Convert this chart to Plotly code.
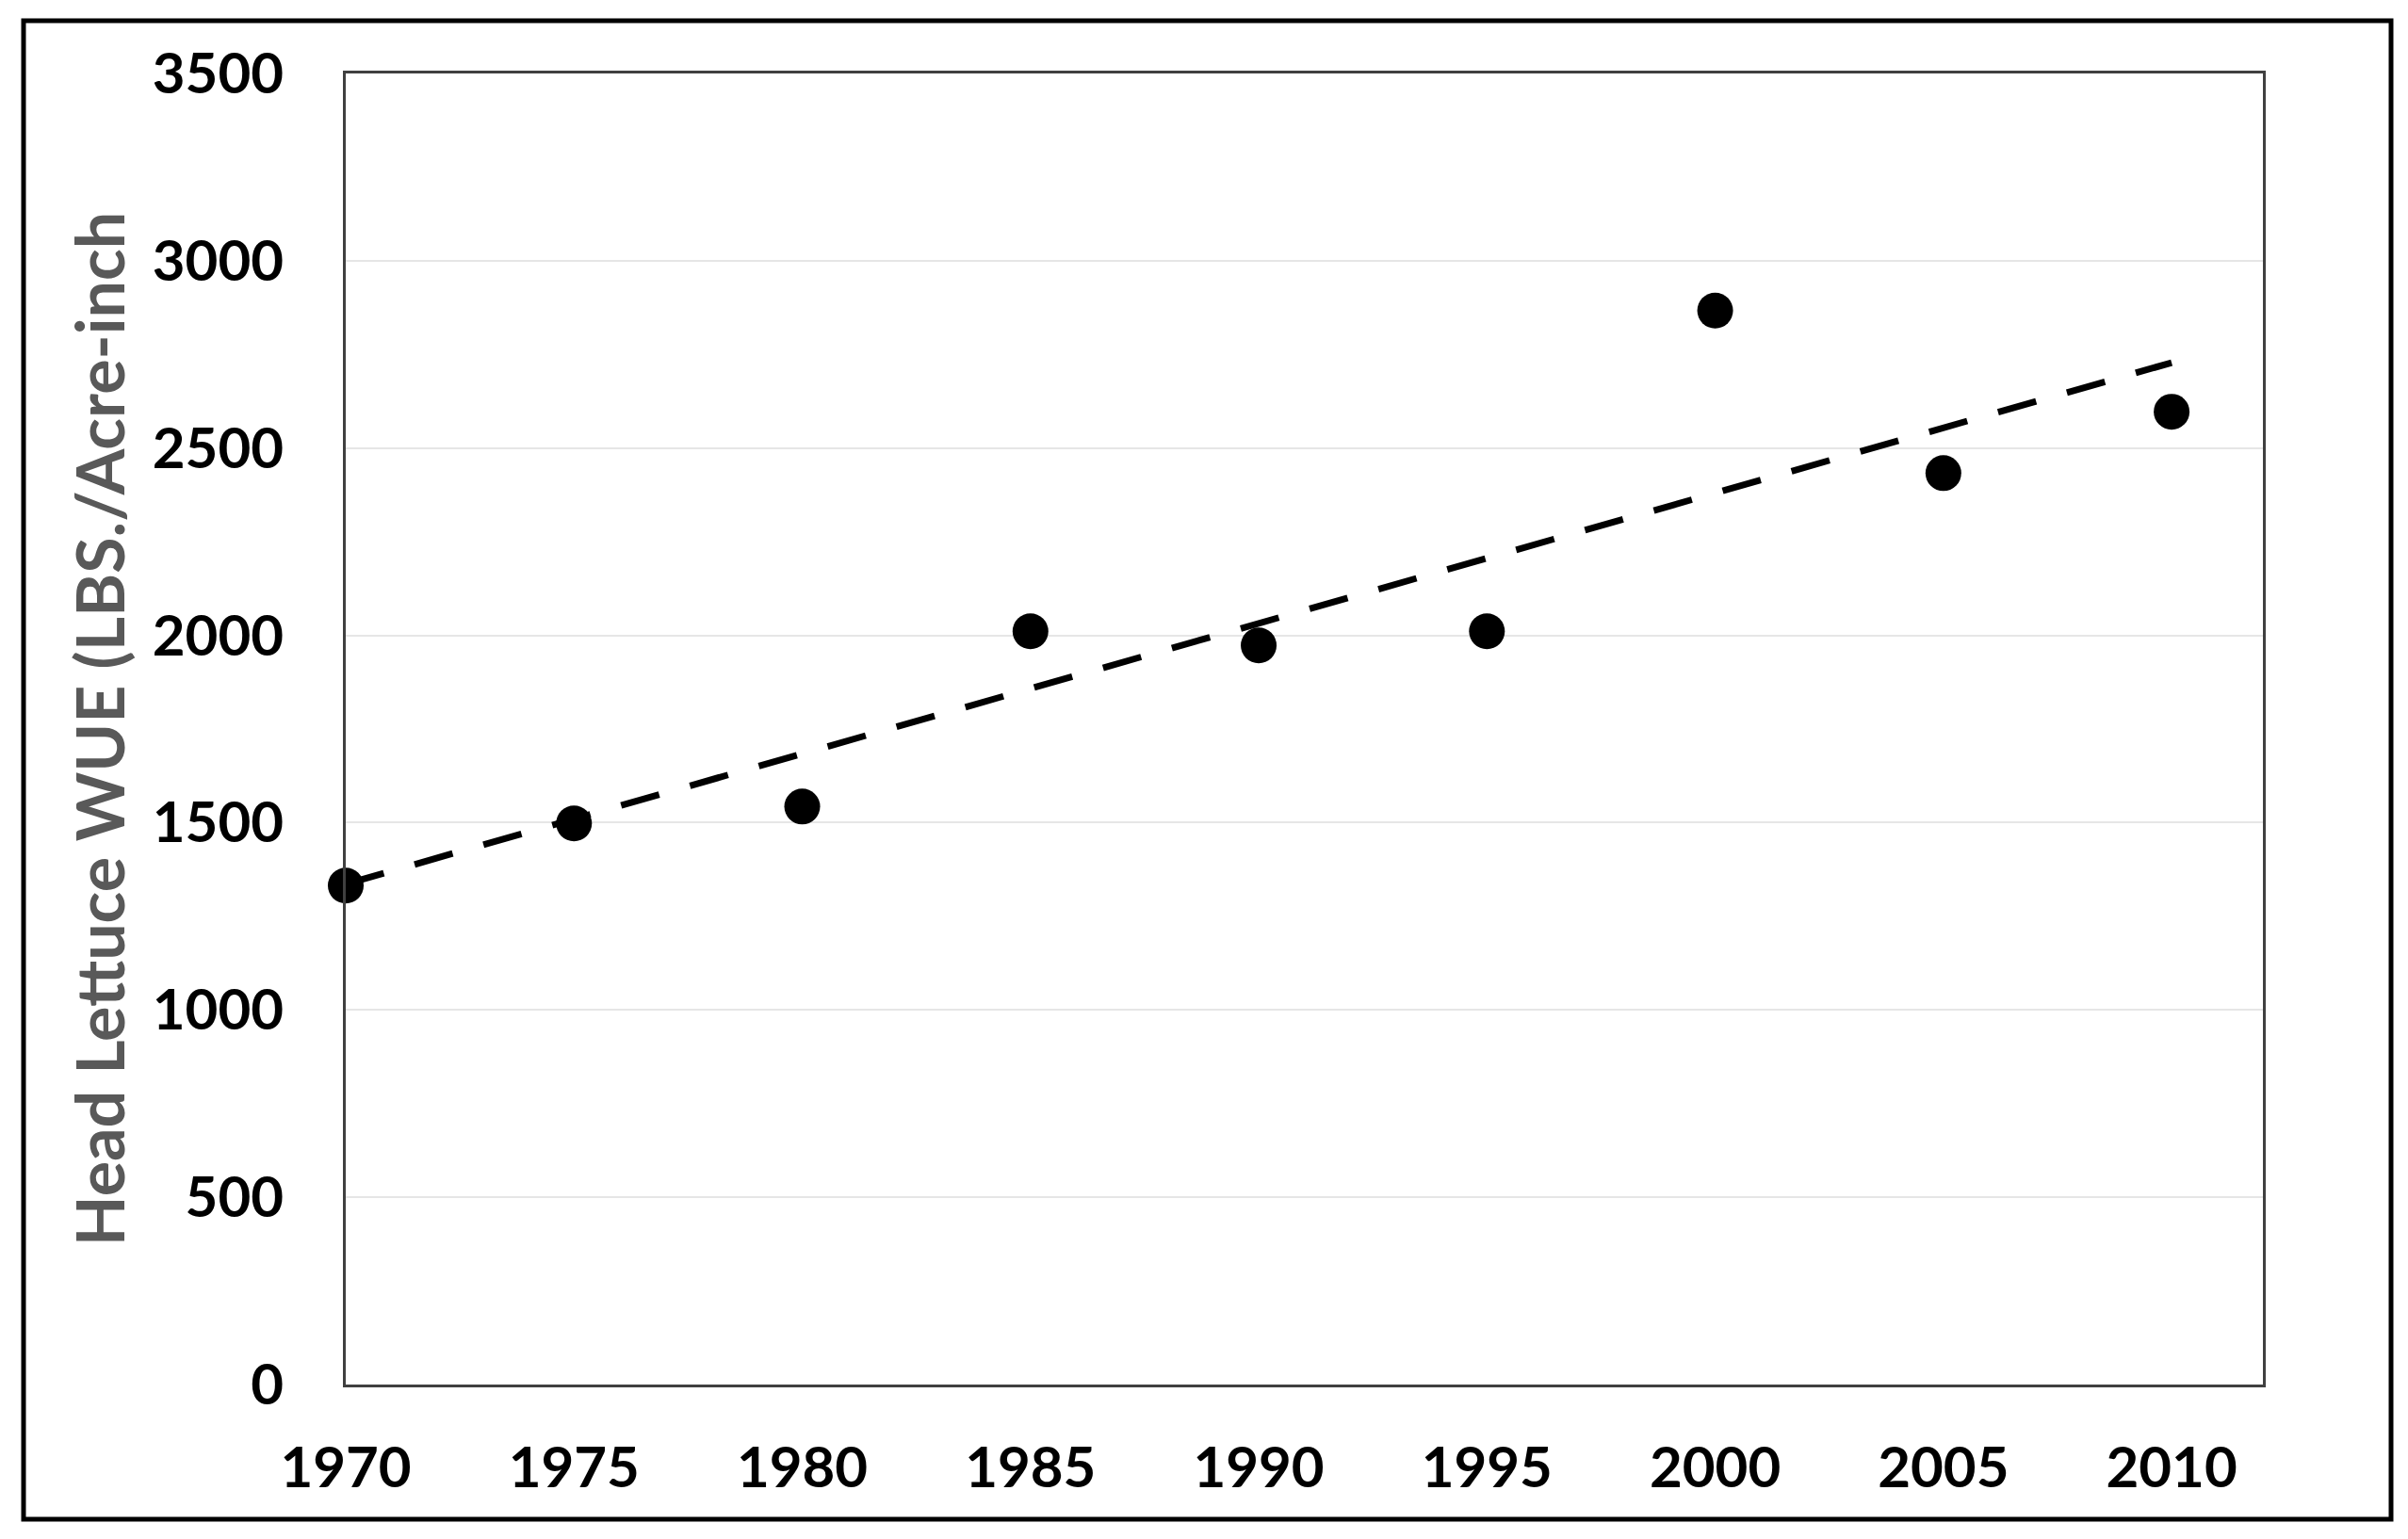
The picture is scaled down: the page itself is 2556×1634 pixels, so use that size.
import plotly.graph_objects as go

# ---- data ----
years = [1970, 1975, 1980, 1985, 1990, 1995, 2000, 2005, 2010]
wue = [1332, 1498, 1543, 2011, 1973, 2011, 2867, 2433, 2597]
trend_years = [1970, 2010]
trend_values = [1336, 2728]
y_ticks = [0, 500, 1000, 1500, 2000, 2500, 3000, 3500]
x_ticks = [1970, 1975, 1980, 1985, 1990, 1995, 2000, 2005, 2010]
x_range = [1970, 2012]
y_title = "Head Lettuce WUE (LBS./Acre-inch"

OFF = 8  # default page body margin
W, H = 2556 - 2 * OFF, 1634 - 2 * OFF
L, R, T, B = 367 - OFF, 2402 - OFF, 78 - OFF, 1470 - OFF  # plot area pixels

fig = go.Figure()
fig.add_trace(go.Scatter(
    x=years, y=wue, mode="markers",
    marker=dict(size=38, color="black"),
    cliponaxis=False, showlegend=False))
fig.add_trace(go.Scatter(
    x=trend_years, y=trend_values, mode="lines",
    line=dict(color="black", width=7, dash="42px,34px"),
    showlegend=False))

font_tick = dict(family="Lato", size=60, color="black", weight="bold")

fig.update_layout(
    width=W, height=H,
    margin=dict(l=L, r=W - R, t=T, b=H - B, pad=0),
    paper_bgcolor="white", plot_bgcolor="white",
    xaxis=dict(range=x_range, tickvals=x_ticks, ticktext=[str(v) for v in x_ticks],
               showgrid=False, zeroline=False, showline=True, mirror=True,
               linecolor="#404040", linewidth=3, ticks="", tickfont=font_tick,
               ticklabelstandoff=34),
    yaxis=dict(range=[0, 3500], tickvals=y_ticks, ticktext=[str(v) for v in y_ticks],
               showgrid=True, gridcolor="#e6e6e6", gridwidth=2, zeroline=False,
               showline=True, mirror=True, linecolor="#404040", linewidth=3,
               ticks="", tickfont=font_tick, ticklabelstandoff=51,
               title=dict(text=y_title, standoff=7,
                          font=dict(family="Lato", size=70, color="#595959", weight="bold"))),
)

# outer frame
fx0, fx1, fy0, fy1 = 25 - OFF, 2538 - OFF, 22 - OFF, 1613 - OFF
fig.add_shape(type="rect", xref="paper", yref="paper",
              x0=(fx0 - L) / (R - L), x1=(fx1 - L) / (R - L),
              y0=(B - fy1) / (B - T), y1=(B - fy0) / (B - T),
              line=dict(color="black", width=5), fillcolor="rgba(0,0,0,0)", layer="above")

fig.write_html("out.html")
